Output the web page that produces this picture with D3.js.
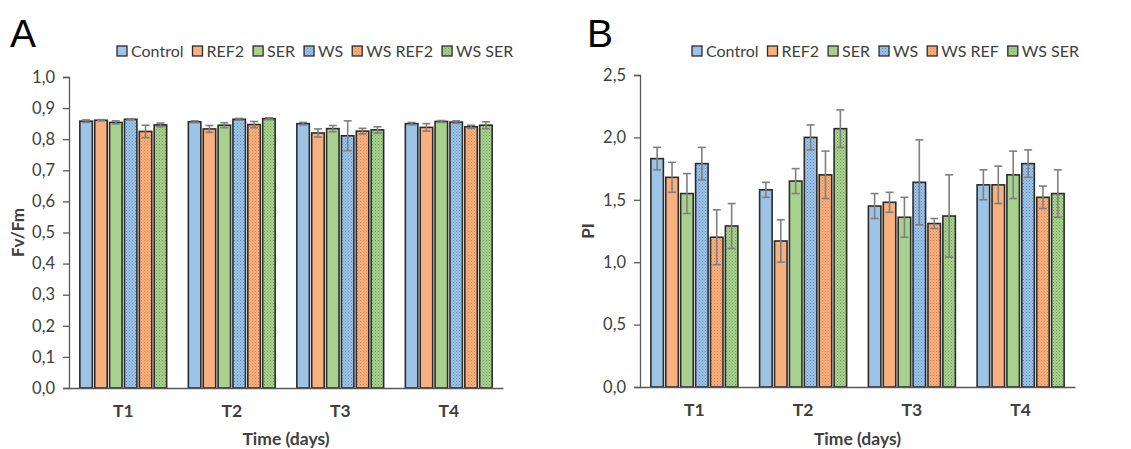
<!DOCTYPE html>
<html>
<head>
<meta charset="utf-8">
<script src="https://cdn.jsdelivr.net/npm/d3@7"></script>
<style>
  body { margin: 0; background: #fff; }
  svg { display: block; font-family: Lato, "Open Sans", sans-serif; }
</style>
</head>
<body>
<svg id="chart" width="1131" height="449"></svg>
<script>
// data
var categories = ["T1", "T2", "T3", "T4"];

var seriesA = ["Control", "REF2", "SER", "WS", "WS REF2", "WS SER"];
var seriesB = ["Control", "REF2", "SER", "WS", "WS REF", "WS SER"];

// Fv/Fm, one row per series, one value per time point
var fvfm = [
  [0.858, 0.856, 0.850, 0.850],
  [0.861, 0.833, 0.820, 0.838],
  [0.854, 0.845, 0.834, 0.857],
  [0.864, 0.864, 0.811, 0.855],
  [0.825, 0.847, 0.826, 0.840],
  [0.846, 0.866, 0.830, 0.845]
];
var fvfmErr = [
  [0.004, 0.003, 0.004, 0.004],
  [0.002, 0.011, 0.013, 0.012],
  [0.005, 0.008, 0.010, 0.003],
  [0.002, 0.003, 0.048, 0.004],
  [0.020, 0.010, 0.009, 0.005],
  [0.006, 0.003, 0.010, 0.011]
];

// PI
var pi = [
  [1.83, 1.58, 1.45, 1.62],
  [1.68, 1.17, 1.48, 1.62],
  [1.55, 1.65, 1.36, 1.70],
  [1.79, 2.00, 1.64, 1.79],
  [1.20, 1.70, 1.31, 1.52],
  [1.29, 2.07, 1.37, 1.55]
];
var piErr = [
  [0.09, 0.06, 0.10, 0.12],
  [0.12, 0.17, 0.08, 0.15],
  [0.16, 0.10, 0.16, 0.19],
  [0.13, 0.10, 0.34, 0.11],
  [0.22, 0.19, 0.04, 0.09],
  [0.18, 0.15, 0.33, 0.19]
];

var yTicksA = [0, 0.1, 0.2, 0.3, 0.4, 0.5, 0.6, 0.7, 0.8, 0.9, 1.0];
var yTicksB = [0, 0.5, 1.0, 1.5, 2.0, 2.5];

var baseColors = ["#9dc3e6", "#f8b07e", "#a9d18e", "#9dc3e6", "#f8b07e", "#a9d18e"];
var dotColors  = [null, null, null, "#5e8fc7", "#d9834a", "#6f9f56"];

var svg = d3.select("#chart");
var defs = svg.append("defs");

// dotted fills for the WS series
dotColors.forEach(function(c, i){
  if (!c) return;
  var p = defs.append("pattern")
      .attr("id", "dots" + i)
      .attr("width", 3).attr("height", 3)
      .attr("patternUnits", "userSpaceOnUse");
  p.append("rect").attr("width", 3).attr("height", 3).attr("fill", baseColors[i]);
  p.append("rect").attr("width", 1).attr("height", 1).attr("fill", c);
  p.append("rect").attr("x", 1.5).attr("y", 1.5).attr("width", 1).attr("height", 1).attr("fill", c).attr("opacity", 0.7);
});

function fillFor(i){
  return dotColors[i] ? "url(#dots" + i + ")" : baseColors[i];
}

function comma(v){ return d3.format(".1f")(v).replace(".", ","); }

function drawPanel(opt){
  var g = svg.append("g");

  var y = d3.scaleLinear().domain([0, opt.yMax]).range([opt.bottom, opt.top]);
  var x0 = d3.scaleBand().domain(categories).range([opt.left, opt.right])
      .paddingInner(0.2).paddingOuter(0.1);
  var x1 = d3.scaleBand().domain(d3.range(opt.series.length)).range([0, x0.bandwidth()])
      .paddingInner(0.16);

  // bars
  opt.values.forEach(function(row, s){
    g.selectAll(".bar" + s)
      .data(row)
      .enter()
      .append("rect")
        .attr("x", (d, i) => x0(categories[i]) + x1(s))
        .attr("y", d => y(d))
        .attr("width", x1.bandwidth())
        .attr("height", d => y(0) - y(d))
        .attr("fill", fillFor(s))
        .attr("stroke", "#2b2b2b")
        .attr("stroke-width", 1.6);
  });

  // error bars
  opt.values.forEach(function(row, s){
    row.forEach(function(v, i){
      var e = opt.errors[s][i];
      var cx = x0(categories[i]) + x1(s) + x1.bandwidth() / 2;
      var eg = g.append("g").attr("stroke", "#7f7f7f").attr("stroke-width", 1.6);
      eg.append("line").attr("x1", cx).attr("x2", cx).attr("y1", y(v + e)).attr("y2", y(v - e));
      eg.append("line").attr("x1", cx - 4).attr("x2", cx + 4).attr("y1", y(v + e)).attr("y2", y(v + e));
      eg.append("line").attr("x1", cx - 4).attr("x2", cx + 4).attr("y1", y(v - e)).attr("y2", y(v - e));
    });
  });

  // y axis
  var yAxis = g.append("g")
      .attr("transform", "translate(" + opt.left + ",0)")
      .call(d3.axisLeft(y).tickValues(opt.yTicks).tickFormat(comma).tickSizeOuter(0).tickSize(6).tickPadding(8));
  yAxis.select(".domain").attr("stroke", "#595959").attr("stroke-width", 1.3);
  yAxis.selectAll(".tick line").attr("stroke", "#595959").attr("stroke-width", 1.3);
  yAxis.selectAll("text").attr("font-size", 16.5).attr("fill", "#404040")
      .attr("font-family", "Lato, sans-serif");

  // x axis
  var xAxis = g.append("g")
      .attr("transform", "translate(0," + opt.bottom + ")")
      .call(d3.axisBottom(x0).tickSize(0).tickSizeOuter(0).tickPadding(17));
  xAxis.select(".domain").attr("stroke", "#595959").attr("stroke-width", 1.3);
  xAxis.selectAll("text").attr("font-size", 17.5).attr("font-weight", "bold")
      .attr("fill", "#404040").attr("font-family", "Lato, sans-serif");

  // titles
  g.append("text")
      .attr("x", (opt.left + opt.right) / 2).attr("y", 445)
      .attr("text-anchor", "middle").attr("font-size", 17.5).attr("font-weight", "bold")
      .attr("fill", "#404040").text("Time (days)");
  g.append("text")
      .attr("transform", "translate(" + opt.yLabelX + "," + ((opt.top + opt.bottom) / 2) + ") rotate(-90)")
      .attr("text-anchor", "middle").attr("font-size", 17).attr("font-weight", "bold")
      .attr("fill", "#404040").text(opt.yLabel);

  g.append("text")
      .attr("x", opt.letterX).attr("y", 47)
      .attr("font-size", 39).attr("font-family", "Liberation Sans, Arial, sans-serif")
      .attr("fill", "#000").text(opt.letter);

  // legend, laid out left to right
  var lg = g.append("g").attr("transform", "translate(" + opt.legendX + ",51)");
  var cursor = 0;
  opt.series.forEach(function(name, s){
    var item = lg.append("g").attr("transform", "translate(" + cursor + ",0)");
    item.append("rect").attr("x", 0).attr("y", -5).attr("width", 10).attr("height", 10)
        .attr("fill", fillFor(s)).attr("stroke", "#2b2b2b").attr("stroke-width", 1.3);
    var t = item.append("text").attr("x", 14).attr("y", 6)
        .attr("font-size", 16).attr("fill", "#404040").text(name);
    cursor += 14 + t.node().getComputedTextLength() + opt.legendGap;
  });
}

drawPanel({
  letter: "A", letterX: 10,
  left: 69, right: 503, top: 77, bottom: 388,
  yMax: 1.0, yTicks: yTicksA,
  series: seriesA, values: fvfm, errors: fvfmErr,
  yLabel: "Fv/Fm", yLabelX: 24,
  legendX: 117, legendGap: 9
});

drawPanel({
  letter: "B", letterX: 587,
  left: 640, right: 1075, top: 75, bottom: 387,
  yMax: 2.5, yTicks: yTicksB,
  series: seriesB, values: pi, errors: piErr,
  yLabel: "PI", yLabelX: 594,
  legendX: 692, legendGap: 9
});
</script>
</body>
</html>
